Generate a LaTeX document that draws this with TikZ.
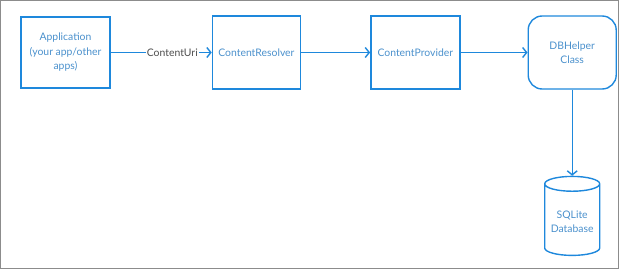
\documentclass[tikz,border=0pt]{standalone}
\usepackage{fontspec}
\setsansfont{Lato}
\usetikzlibrary{arrows.meta, positioning, shapes.geometric}
\definecolor{FlowBlue}{HTML}{1E88DC}
\definecolor{LabelBlue}{HTML}{4A90CC}
\definecolor{UriGray}{HTML}{4D4D4D}
\definecolor{FrameGray}{HTML}{8C8C8C}

\begin{document}
\begin{tikzpicture}[x=1pt, y=-1pt, >={Straight Barb[length=4pt, width=10pt]}, font=\sffamily\fontsize{10.4}{14.5}\selectfont]
      \useasboundingbox (0,0) rectangle (620,270);
      \draw[FrameGray, line width=1pt] (0.5,0.5) rectangle (618,268);

      \node[draw=FlowBlue, line width=1.4pt, text=LabelBlue, align=center, minimum width=89pt, minimum height=71pt] (app) at (65.5,52.5) {Application\\(your app/other\\apps)};
      \node[draw=FlowBlue, line width=1.4pt, text=LabelBlue, align=center, minimum width=88pt, minimum height=73pt, right=101pt of app] (resolver) {ContentResolver};
      \node[draw=FlowBlue, line width=1.4pt, text=LabelBlue, align=center, minimum width=89pt, minimum height=73pt, right=69pt of resolver] (provider) {ContentProvider};
      \node[draw=FlowBlue, line width=1.4pt, text=LabelBlue, align=center, minimum width=88pt, minimum height=73pt, rounded corners=14pt, right=67pt of provider] (helper) {DBHelper\\Class};
      \node[draw=FlowBlue, line width=1.4pt, text=LabelBlue, align=center, cylinder, shape border rotate=90, aspect=0.3, minimum width=55pt, minimum height=79pt, below=86pt of helper.south] (sqlite) {SQLite\\Database};

      \draw[->, line width=1.4pt, FlowBlue] (app) -- node[pos=0.61, fill=white, text=UriGray, inner sep=1pt] {ContentUri} (resolver);
      \draw[->, line width=1.4pt, FlowBlue] (resolver) -- (provider);
      \draw[->, line width=1.4pt, FlowBlue] (provider) -- (helper);
      \draw[->, line width=1.4pt, FlowBlue] (helper) -- (sqlite);
    \end{tikzpicture}
\end{document}
